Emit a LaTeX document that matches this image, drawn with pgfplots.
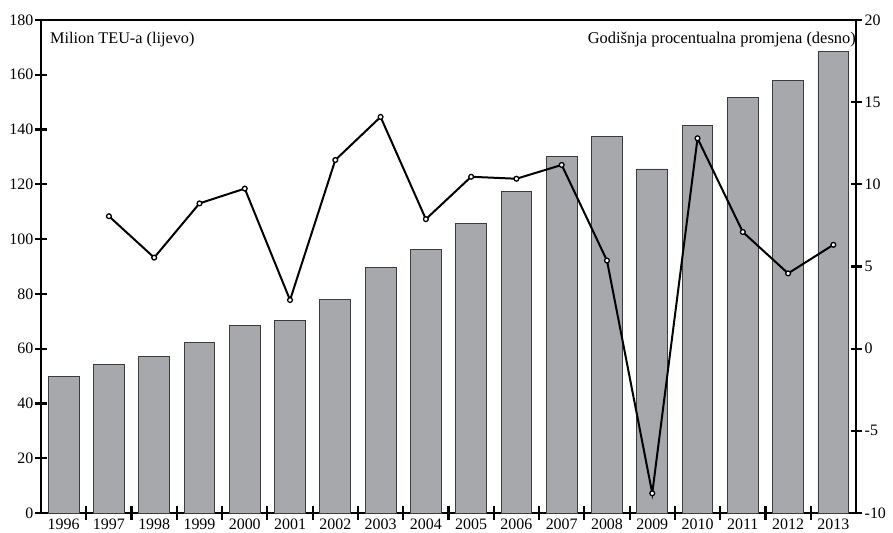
\documentclass[border=0pt]{standalone}
\usepackage{pgfplots}
\pgfplotsset{compat=1.18}
\usepackage{fontspec}
\setmainfont{Liberation Serif}

\definecolor{barfill}{RGB}{166,168,171}
\definecolor{baredge}{RGB}{60,60,60}

\begin{document}
\begin{tikzpicture}
\pgfplotsset{
  common/.style={
    width=815bp, height=493bp, scale only axis,
    xmin=-0.5, xmax=17.5,
    tick align=center,
    major tick length=11bp,
    tick style={black, line width=2.2bp},
    axis line style={line width=1.8bp},
    tick label style={font=\fontsize{16}{16}\selectfont},
    /pgf/number format/assume math mode=true,
  }
}
\begin{axis}[common,
  ymin=0, ymax=180,
  ytick={0,20,...,180}, ytick pos=left,
  xtick={0,...,17}, xtick pos=bottom,
  xticklabels={1996,1997,1998,1999,2000,2001,2002,2003,2004,2005,2006,2007,2008,2009,2010,2011,2012,2013},
  major x tick style={draw=none},
  minor xtick={0.5,1.5,...,16.5},
  minor tick length=13bp,
  minor tick style={black, line width=2.2bp},
  xticklabel style={inner sep=0.5bp},
  yticklabel style={inner sep=2bp},
]
\addplot[ybar, bar width=0.68, fill=barfill, draw=baredge, line width=0.9bp]
coordinates {
(0,50.0) (1,54.4) (2,57.2) (3,62.3) (4,68.4) (5,70.2) (6,78.1) (7,89.6) (8,96.1)
(9,105.8) (10,117.4) (11,130.0) (12,137.5) (13,125.6) (14,141.5) (15,151.6) (16,158.0) (17,168.5)
};
\node[anchor=north west, font=\fontsize{16.3}{16}\selectfont, inner sep=0pt]
  at (axis description cs:0.011,0.975) {Milion TEU-a (lijevo)};
\node[anchor=north east, font=\fontsize{16.5}{16}\selectfont, inner sep=0pt]
  at (axis description cs:1.0,0.975) {Godišnja procentualna promjena (desno)};
\end{axis}
\begin{axis}[common,
  axis x line=none, axis y line*=right,
  ymin=-10, ymax=20,
  ytick={-10,-5,0,5,10,15,20},
  yticklabels={-10,-5,0,5,10,15,20},
  yticklabel style={inner sep=3bp},
]
\addplot[black, line width=2bp, mark=*, mark size=2.4bp,
  mark options={fill=white, line width=1.3bp}]
coordinates {
(1,8.06) (2,5.54) (3,8.84) (4,9.74) (5,2.96) (6,11.48) (7,14.1) (8,7.88)
(9,10.46) (10,10.34) (11,11.18) (12,5.36) (13,-8.8) (14,12.8) (15,7.1) (16,4.58) (17,6.32)
};
\end{axis}
\pgfresetboundingbox
\path ([xshift=-41bp,yshift=-20bp]current axis.south west) rectangle ([xshift=37bp,yshift=20bp]current axis.north east);
\end{tikzpicture}
\end{document}
